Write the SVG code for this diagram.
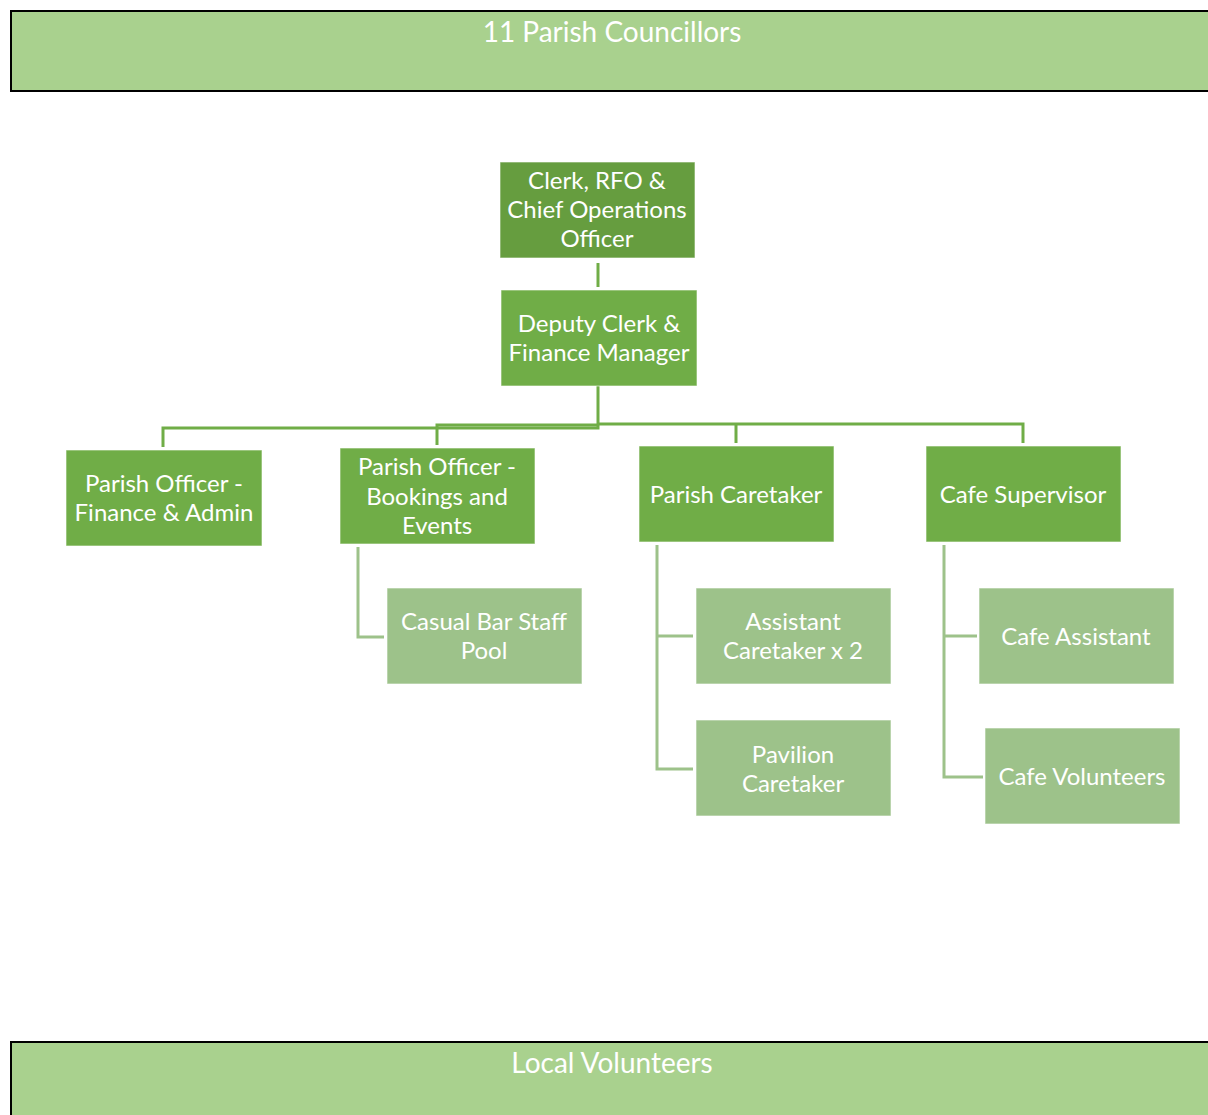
<svg xmlns="http://www.w3.org/2000/svg" width="1208" height="1115" viewBox="0 0 1208 1115">
<style>
text{font-family:Lato,"Liberation Sans",sans-serif;fill:#fff;text-anchor:middle;dominant-baseline:central}
.t{font-size:24px}
.big{font-size:28px}
.band{fill:#A9D18E;stroke:#000;stroke-width:2}
.n0{fill:#669D3F;stroke:#fff;stroke-opacity:.6;stroke-width:1}
.n1{fill:#70AD47;stroke:#fff;stroke-opacity:.6;stroke-width:1}
.n2{fill:#9DC28A;stroke:#fff;stroke-opacity:.6;stroke-width:1}
.c1{fill:none;stroke:#70AD47;stroke-width:3}
.c2{fill:none;stroke:#9DC28A;stroke-width:3}
</style>
<rect width="1208" height="1115" fill="#fff"/>
<g id="councillors">
<rect class="band" x="11" y="11" width="1210" height="80"/>
<text class="big" x="612" y="31">11 Parish Councillors</text>
</g>
<g id="volunteers">
<rect class="band" x="11" y="1042" width="1210" height="90"/>
<text class="big" x="612" y="1062">Local Volunteers</text>
</g>
<g id="connectors">
<path class="c1" d="M598 263V287"/>
<path class="c1" d="M598 386V428H163V447"/>
<path class="c1" d="M598 425H437V445"/>
<path class="c1" d="M598 424H1023V443M736 424V443"/>
<path class="c2" d="M358 547V637H384"/>
<path class="c2" d="M657 545V769H693M657 636H693"/>
<path class="c2" d="M944 545V777H983M944 636H977"/>
</g>
<g id="clerk">
<rect class="n0" x="500" y="162" width="195" height="96"/>
<text class="t" x="597" y="179">Clerk, RFO &amp;</text>
<text class="t" x="597" y="208">Chief Operations</text>
<text class="t" x="597" y="237">Officer</text>
</g>
<g id="deputy">
<rect class="n1" x="501" y="290" width="196" height="96"/>
<text class="t" x="599" y="322">Deputy Clerk &amp;</text>
<text class="t" x="599" y="351">Finance Manager</text>
</g>
<g id="po-finance">
<rect class="n1" x="66" y="450" width="196" height="96"/>
<text class="t" x="164" y="482">Parish Officer -</text>
<text class="t" x="164" y="511">Finance &amp; Admin</text>
</g>
<g id="po-bookings">
<rect class="n1" x="340" y="448" width="195" height="96"/>
<text class="t" x="437" y="465">Parish Officer -</text>
<text class="t" x="437" y="495">Bookings and</text>
<text class="t" x="437" y="524">Events</text>
</g>
<g id="caretaker">
<rect class="n1" x="639" y="446" width="195" height="96"/>
<text class="t" x="736" y="493">Parish Caretaker</text>
</g>
<g id="cafe-supervisor">
<rect class="n1" x="926" y="446" width="195" height="96"/>
<text class="t" x="1023" y="493">Cafe Supervisor</text>
</g>
<g id="bar-staff">
<rect class="n2" x="387" y="588" width="195" height="96"/>
<text class="t" x="484" y="620">Casual Bar Staff</text>
<text class="t" x="484" y="649">Pool</text>
</g>
<g id="asst-caretaker">
<rect class="n2" x="696" y="588" width="195" height="96"/>
<text class="t" x="793" y="620">Assistant</text>
<text class="t" x="793" y="649">Caretaker x 2</text>
</g>
<g id="pavilion">
<rect class="n2" x="696" y="720" width="195" height="96"/>
<text class="t" x="793" y="753">Pavilion</text>
<text class="t" x="793" y="782">Caretaker</text>
</g>
<g id="cafe-assistant">
<rect class="n2" x="979" y="588" width="195" height="96"/>
<text class="t" x="1076" y="635">Cafe Assistant</text>
</g>
<g id="cafe-volunteers">
<rect class="n2" x="985" y="728" width="195" height="96"/>
<text class="t" x="1082" y="775">Cafe Volunteers</text>
</g>
</svg>
